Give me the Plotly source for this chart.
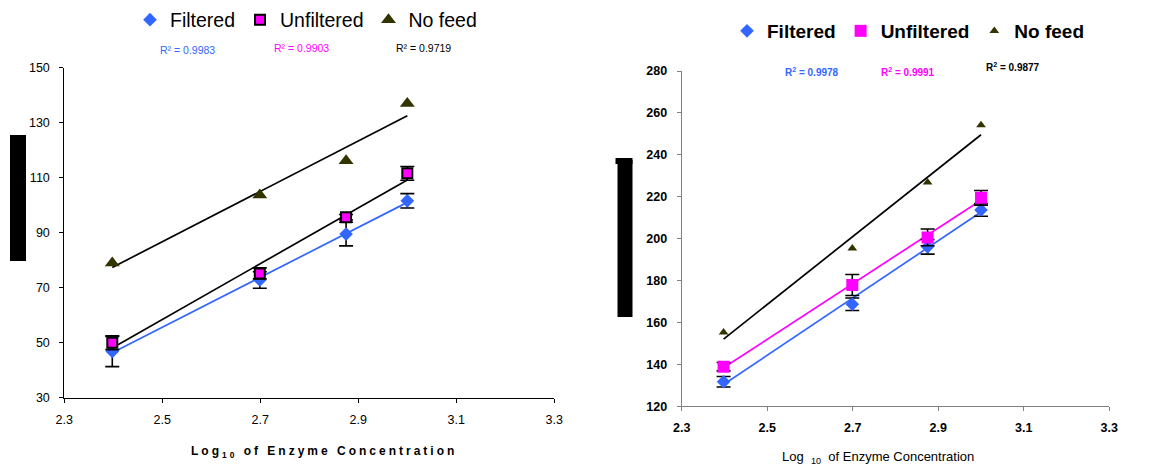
import numpy as np
import plotly.graph_objects as go

# ---------------- data ----------------
conc = [250, 500, 750, 1000]
x_log = [float(np.log10(c)) for c in conc]
series_names = ["Filtered", "Unfiltered", "No feed"]

left_filtered = [46.8, 72.8, 89.5, 101.6]
left_filtered_err = [5.5, 3.0, 4.3, 2.6]
left_unfiltered = [50.0, 75.2, 95.6, 111.6]
left_unfiltered_err = [2.5, 2.0, 1.0, 2.5]
left_nofeed = [79.0, 103.7, 116.2, 137.0]
left_r2 = ["0.9983", "0.9903", "0.9719"]

right_filtered = [131.7, 168.7, 196.1, 213.7]
right_filtered_err = [2.5, 3.0, 3.5, 3.0]
right_unfiltered = [138.9, 177.9, 200.6, 219.5]
right_unfiltered_err = [2.0, 5.0, 4.0, 3.5]
right_nofeed = [155.3, 195.4, 226.9, 254.2]
right_r2 = ["0.9978", "0.9991", "0.9877"]

x_ticks = [2.3, 2.5, 2.7, 2.9, 3.1, 3.3]
left_y_ticks = [30, 50, 70, 90, 110, 130, 150]
right_y_ticks = [120, 140, 160, 180, 200, 220, 240, 260, 280]

# ---------------- styling ----------------
PAGE_OFF = 8            # default body margin of the html page
W, H = 1156 - PAGE_OFF, 469 - PAGE_OFF
BLUE = "#3366FF"
MAGENTA = "#FF00FF"
OLIVE = "#333300"
FONT = "Arial, Liberation Sans, sans-serif"


def px_x(p):
    return (p - PAGE_OFF) / W


def px_y(p):
    return 1 - (p - PAGE_OFF) / H


def fit_line(xs, ys):
    k, b = np.polyfit(xs, ys, 1)
    xe = [min(xs), max(xs)]
    return xe, [k * v + b for v in xe]


fig = go.Figure()

# ---- left panel fit lines ----
for ys, col in [(left_filtered, BLUE), (left_unfiltered, "black"), (left_nofeed, "black")]:
    xe, ye = fit_line(x_log, ys)
    fig.add_trace(go.Scatter(x=xe, y=ye, mode="lines", line=dict(color=col, width=1.7),
                             showlegend=False, hoverinfo="skip", xaxis="x", yaxis="y"))

# ---- left panel markers ----
fig.add_trace(go.Scatter(
    x=x_log, y=left_filtered, mode="markers", name=series_names[0],
    marker=dict(symbol="diamond", size=10.5, color=BLUE),
    error_y=dict(type="data", array=left_filtered_err, color="black", thickness=1.6, width=7),
    xaxis="x", yaxis="y", legend="legend"))
fig.add_trace(go.Scatter(
    x=x_log, y=left_unfiltered, mode="markers", name=series_names[1],
    marker=dict(symbol="square", size=10, color=MAGENTA, line=dict(color="black", width=2)),
    error_y=dict(type="data", array=left_unfiltered_err, color="black", thickness=1.6, width=7),
    xaxis="x", yaxis="y", legend="legend"))
fig.add_trace(go.Scatter(
    x=x_log, y=left_nofeed, mode="markers", name=series_names[2],
    marker=dict(symbol="triangle-up", size=13, color=OLIVE),
    xaxis="x", yaxis="y", legend="legend"))

# ---- right panel fit lines ----
for ys, col in [(right_filtered, BLUE), (right_unfiltered, MAGENTA), (right_nofeed, "black")]:
    xe, ye = fit_line(x_log, ys)
    fig.add_trace(go.Scatter(x=xe, y=ye, mode="lines", line=dict(color=col, width=1.7),
                             showlegend=False, hoverinfo="skip", xaxis="x2", yaxis="y2"))

# ---- right panel markers ----
fig.add_trace(go.Scatter(
    x=x_log, y=right_filtered, mode="markers", name=series_names[0],
    marker=dict(symbol="diamond", size=10.5, color=BLUE),
    error_y=dict(type="data", array=right_filtered_err, color="black", thickness=1.6, width=7),
    xaxis="x2", yaxis="y2", legend="legend2"))
fig.add_trace(go.Scatter(
    x=x_log, y=right_unfiltered, mode="markers", name=series_names[1],
    marker=dict(symbol="square", size=12, color=MAGENTA),
    error_y=dict(type="data", array=right_unfiltered_err, color="black", thickness=1.6, width=7),
    xaxis="x2", yaxis="y2", legend="legend2"))
fig.add_trace(go.Scatter(
    x=x_log, y=right_nofeed, mode="markers", name=series_names[2],
    marker=dict(symbol="triangle-up", size=8.5, color=OLIVE),
    xaxis="x2", yaxis="y2", legend="legend2"))

axis_common = dict(showgrid=False, zeroline=False, ticks="outside", ticklen=4, tickwidth=1,
                   showline=True, mirror=False, automargin=False)

fig.update_layout(
    width=W, height=H,
    margin=dict(l=0, r=0, t=0, b=0, pad=0, autoexpand=False),
    paper_bgcolor="white", plot_bgcolor="white",
    font=dict(family=FONT, color="black"),
    xaxis=dict(domain=[px_x(64.3), px_x(554.3)], range=[2.3, 3.3], tickvals=x_ticks,
               ticktext=[f"{v:.1f}" for v in x_ticks], linecolor="black", tickcolor="black",
               tickfont=dict(size=12.5), ticklabelstandoff=6, anchor="y", **axis_common),
    yaxis=dict(domain=[px_y(397.7), px_y(67.7)], range=[30, 150], tickvals=left_y_ticks,
               linecolor="black", tickcolor="black", tickfont=dict(size=12.5), anchor="x",
               ticklabelstandoff=7, **axis_common),
    xaxis2=dict(domain=[px_x(681.7), px_x(1109.3)], range=[2.3, 3.3], tickvals=x_ticks,
                ticktext=[f"{v:.1f}" for v in x_ticks], linecolor="#808080", tickcolor="#808080",
                tickfont=dict(size=12.5, weight="bold"), ticklabelstandoff=6, anchor="y2",
                **axis_common),
    yaxis2=dict(domain=[px_y(406.3), px_y(71)], range=[120, 280], tickvals=right_y_ticks,
                linecolor="#808080", tickcolor="#808080", tickfont=dict(size=12.5, weight="bold"),
                anchor="x2", ticklabelstandoff=7, **axis_common),
    legend=dict(orientation="h", x=px_x(306), xanchor="center", y=px_y(20), yanchor="middle",
                font=dict(size=19.5, family=FONT), itemwidth=30, bgcolor="rgba(0,0,0,0)",
                tracegroupgap=0),
    legend2=dict(orientation="h", x=px_x(908), xanchor="center", y=px_y(31), yanchor="middle",
                 font=dict(size=19, family=FONT, weight="bold"), itemwidth=30,
                 bgcolor="rgba(0,0,0,0)", tracegroupgap=0),
)

# R^2 annotations
left_r2_pos = [(187, 50, BLUE), (301, 48, MAGENTA), (423, 48, "black")]
for val, (cx, cy, col) in zip(left_r2, left_r2_pos):
    fig.add_annotation(x=px_x(cx), y=px_y(cy), xref="paper", yref="paper",
                       text=f"R² = {val}", showarrow=False,
                       font=dict(size=10.5, color=col, family=FONT), xanchor="center", yanchor="middle")
right_r2_pos = [(812, 72, BLUE), (908, 72, MAGENTA), (1013, 67, "black")]
for val, (cx, cy, col) in zip(right_r2, right_r2_pos):
    fig.add_annotation(x=px_x(cx), y=px_y(cy), xref="paper", yref="paper",
                       text=f"R<sup>2</sup> = {val}", showarrow=False,
                       font=dict(size=10, color=col, family=FONT, weight="bold"),
                       xanchor="center", yanchor="middle")

# axis titles
fig.add_annotation(x=px_x(323.5), y=px_y(452), xref="paper", yref="paper", showarrow=False,
                   text='<span style="letter-spacing:3px">Log<sub>10</sub> of Enzyme Concentration</span>',
                   font=dict(size=12, family=FONT, weight="bold"), xanchor="center", yanchor="middle")
fig.add_annotation(x=px_x(878), y=px_y(457), xref="paper", yref="paper", showarrow=False,
                   text="Log  <sub>10</sub>  of Enzyme Concentration",
                   font=dict(size=13, family=FONT), xanchor="center", yanchor="middle")

# redaction blocks over the y-axis titles
for x0, x1, y0, y1 in [(10, 26, 135, 261), (617.5, 632.5, 160, 317), (615.5, 632.5, 158, 164)]:
    fig.add_shape(type="rect", xref="paper", yref="paper",
                  x0=px_x(x0), x1=px_x(x1), y0=px_y(y1), y1=px_y(y0),
                  fillcolor="black", line=dict(width=0))

fig.write_html("out.html")
